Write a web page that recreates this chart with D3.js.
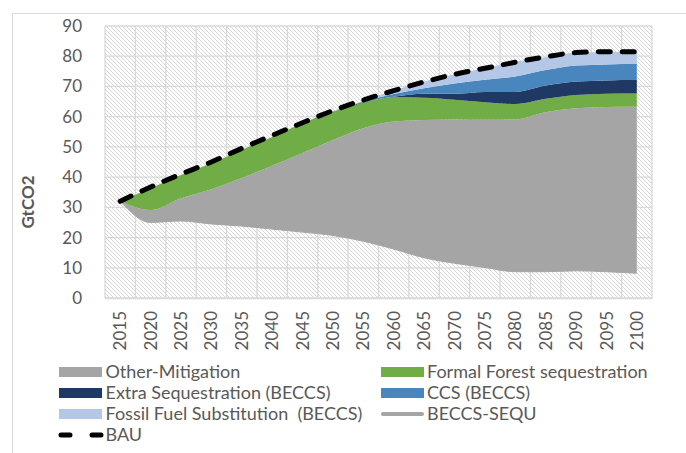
<!DOCTYPE html>
<html>
<head>
<meta charset="utf-8">
<script src="https://cdn.jsdelivr.net/npm/d3@7"></script>
<style>
  body { margin: 0; background: #fff; }
  svg { display: block; font-family: Lato, "Liberation Sans", sans-serif; }
  .axis text { fill: #595959; font-size: 17px; }
  .legend text { fill: #595959; font-size: 18px; white-space: pre; }
</style>
</head>
<body>
<script>
// chart size
var w = 686,
    h = 453;

// plot area inside the chart
var plot = { left: 105, top: 26, right: 652, bottom: 298 };

// data (GtCO2)
var years = [2015, 2020, 2025, 2030, 2035, 2040, 2045, 2050, 2055, 2060,
             2065, 2070, 2075, 2080, 2085, 2090, 2095, 2100];
var beccsSequ = [32, 25, 25.5, 24.5, 23.8, 22.8, 21.8, 20.7, 18.8, 16.2,
                 13.3, 11.5, 10.1, 8.7, 8.7, 9.0, 8.7, 8.2];
var otherMitigation = [0, 4.1, 7.5, 11.5, 15.9, 21.0, 26.2, 31.6, 37.4, 42.2,
                       45.6, 47.6, 48.9, 50.4, 52.8, 53.8, 54.5, 55.1];
var forestSeq = [0, 7.2, 7.7, 8.6, 9.3, 9.5, 9.8, 9.4, 8.4, 8.0,
                 7.4, 6.5, 5.8, 5.1, 4.4, 4.4, 4.4, 4.4];
var extraSeq = [0, 0, 0, 0, 0, 0, 0, 0, 0.2, 0.2,
                1.3, 2.0, 3.4, 4.0, 4.4, 4.4, 4.4, 4.4];
var ccsBeccs = [0, 0, 0, 0, 0, 0, 0, 0, 0.2, 0.9,
                1.8, 3.4, 4.0, 5.1, 5.1, 5.3, 5.3, 5.3];
var fossilSub = [0, 0, 0, 0, 0, 0, 0, 0, 0.3, 1.1,
                 2.2, 3.0, 3.8, 4.9, 4.3, 4.3, 4.1, 4.1];
var bau = [32, 36.7, 41, 45, 49.5, 53.8, 58, 62, 65.5, 68.6,
           71.5, 74, 76, 78, 79.8, 81.2, 81.5, 81.5];
var yTicks = [0, 10, 20, 30, 40, 50, 60, 70, 80, 90];

var seriesNames = ['Other-Mitigation', 'Formal Forest sequestration', 'Extra Sequestration (BECCS)',
                   'CCS (BECCS)', 'Fossil Fuel Substitution  (BECCS)'];
var seriesColors = ['#a5a5a5', '#70ad47', '#203864', '#4a86be', '#b4c7e7'];

// table for d3.stack (base is the invisible bottom series)
var keys = ['base', 'other', 'forest', 'extra', 'ccs', 'fossil'];
var table = years.map(function(y, i) {
  return { year: y, base: beccsSequ[i], other: otherMitigation[i], forest: forestSeq[i],
           extra: extraSeq[i], ccs: ccsBeccs[i], fossil: fossilSub[i], bau: bau[i] };
});

var svg = d3.select('body').append('svg')
  .attr('width', w)
  .attr('height', h);

// hatch pattern of the plot area
var defs = svg.append('defs');
defs.append('pattern')
  .attr('id', 'hatch')
  .attr('patternUnits', 'userSpaceOnUse')
  .attr('width', 4)
  .attr('height', 4)
  .append('path')
    .attr('d', 'M-1,-1L5,5M-1,3L1,5M3,-1L5,1')
    .attr('stroke', '#d6d6d6')
    .attr('stroke-width', 1);

// chart border
svg.append('rect')
  .attr('x', 12.5).attr('y', 13.5)
  .attr('width', w).attr('height', h)
  .attr('fill', 'none')
  .attr('stroke', '#d9d9d9');

// SCALES
var xScale = d3.scaleBand()
  .domain(years)
  .range([plot.left, plot.right]);

var yScale = d3.scaleLinear()
  .domain([0, 90])
  .range([plot.bottom, plot.top]);

function xc(d) { return xScale(d.data ? d.data.year : d.year) + xScale.bandwidth() / 2; }

svg.append('rect')
  .attr('x', plot.left).attr('y', plot.top)
  .attr('width', plot.right - plot.left).attr('height', plot.bottom - plot.top)
  .attr('fill', 'url(#hatch)');

// GRIDLINES
svg.append('g').selectAll('line')
  .data(yTicks)
  .enter().append('line')
    .attr('x1', plot.left).attr('x2', plot.right)
    .attr('y1', function(d) { return yScale(d); })
    .attr('y2', function(d) { return yScale(d); })
    .attr('stroke', '#d9d9d9')
    .attr('stroke-width', 1.3);

svg.append('g').selectAll('line')
  .data(years.concat(['end']))
  .enter().append('line')
    .attr('x1', function(d) { return d === 'end' ? plot.right : xScale(d); })
    .attr('x2', function(d) { return d === 'end' ? plot.right : xScale(d); })
    .attr('y1', plot.top).attr('y2', plot.bottom)
    .attr('stroke', '#d9d9d9')
    .attr('stroke-width', 1.3);

// STACKED AREAS
var stacked = d3.stack().keys(keys)(table);

var area = d3.area()
  .curve(d3.curveMonotoneX)
  .x(xc)
  .y0(function(d) { return yScale(d[0]); })
  .y1(function(d) { return yScale(d[1]); });

svg.append('g').selectAll('path')
  .data(stacked.slice(1))
  .enter().append('path')
    .attr('d', area)
    .attr('fill', function(d, i) { return seriesColors[i]; });

// BECCS-SEQU line
var line = d3.line()
  .curve(d3.curveMonotoneX)
  .x(xc);

svg.append('path')
  .datum(table)
  .attr('d', line.y(function(d) { return yScale(d.base); }))
  .attr('fill', 'none')
  .attr('stroke', '#a5a5a5')
  .attr('stroke-width', 1);

// BAU dashed line
svg.append('path')
  .datum(table)
  .attr('d', line.y(function(d) { return yScale(d.bau); }))
  .attr('fill', 'none')
  .attr('stroke', '#000')
  .attr('stroke-width', 5)
  .attr('stroke-linecap', 'round')
  .attr('stroke-dasharray', '12,12');

// AXES
svg.append('g')
  .attr('class', 'axis y')
  .attr('transform', 'translate(' + plot.left + ',0)')
  .call(d3.axisLeft(yScale).tickValues(yTicks).tickSize(0).tickPadding(23))
  .call(function(g) { g.select('.domain').remove(); })
  .selectAll('text')
    .style('font-family', 'Lato, sans-serif');

svg.append('g')
  .attr('class', 'axis x')
  .attr('transform', 'translate(0,' + plot.bottom + ')')
  .call(d3.axisBottom(xScale).tickSize(0))
  .call(function(g) { g.select('.domain').attr('stroke', '#d9d9d9').attr('stroke-width', 1.3); })
  .selectAll('text')
    .attr('transform', 'rotate(-90)')
    .attr('x', -13)
    .attr('y', 0)
    .attr('dy', '0.36em')
    .style('text-anchor', 'end')
    .style('font-family', 'Lato, sans-serif');

svg.append('text')
  .attr('transform', 'translate(28,202) rotate(-90)')
  .attr('dy', '0.35em')
  .style('text-anchor', 'middle')
  .style('font-weight', 'bold')
  .style('font-size', '17px')
  .style('fill', '#595959')
  .text('GtCO2');

// LEGEND
var legendItems = [
  { name: seriesNames[0], color: seriesColors[0], type: 'box', col: 0, row: 0 },
  { name: seriesNames[1], color: seriesColors[1], type: 'box', col: 1, row: 0 },
  { name: seriesNames[2], color: seriesColors[2], type: 'box', col: 0, row: 1 },
  { name: seriesNames[3], color: seriesColors[3], type: 'box', col: 1, row: 1 },
  { name: seriesNames[4], color: seriesColors[4], type: 'box', col: 0, row: 2 },
  { name: 'BECCS-SEQU', color: '#a5a5a5', type: 'line', col: 1, row: 2 },
  { name: 'BAU', color: '#000', type: 'dash', col: 0, row: 3 }
];
var colX = [59, 381],
    rowY = [372, 393, 414, 435];

var legend = svg.append('g').attr('class', 'legend')
  .selectAll('g')
  .data(legendItems)
  .enter().append('g')
    .attr('transform', function(d) { return 'translate(' + colX[d.col] + ',' + rowY[d.row] + ')'; });

legend.filter(function(d) { return d.type === 'box'; })
  .append('rect')
    .attr('x', 0).attr('y', -5)
    .attr('width', 43).attr('height', 10)
    .attr('fill', function(d) { return d.color; });

legend.filter(function(d) { return d.type === 'line'; })
  .append('line')
    .attr('x1', 2).attr('x2', 41)
    .attr('stroke', function(d) { return d.color; })
    .attr('stroke-width', 4)
    .attr('stroke-linecap', 'round');

legend.filter(function(d) { return d.type === 'dash'; })
  .append('line')
    .attr('x1', 2).attr('x2', 42)
    .attr('stroke', function(d) { return d.color; })
    .attr('stroke-width', 5)
    .attr('stroke-linecap', 'round')
    .attr('stroke-dasharray', '9,22');

legend.append('text')
  .attr('x', function(d) { return d.col === 0 ? 46.5 : 46; })
  .attr('y', 0)
  .attr('dy', '0.35em')
  .text(function(d) { return d.name; });
</script>
</body>
</html>
